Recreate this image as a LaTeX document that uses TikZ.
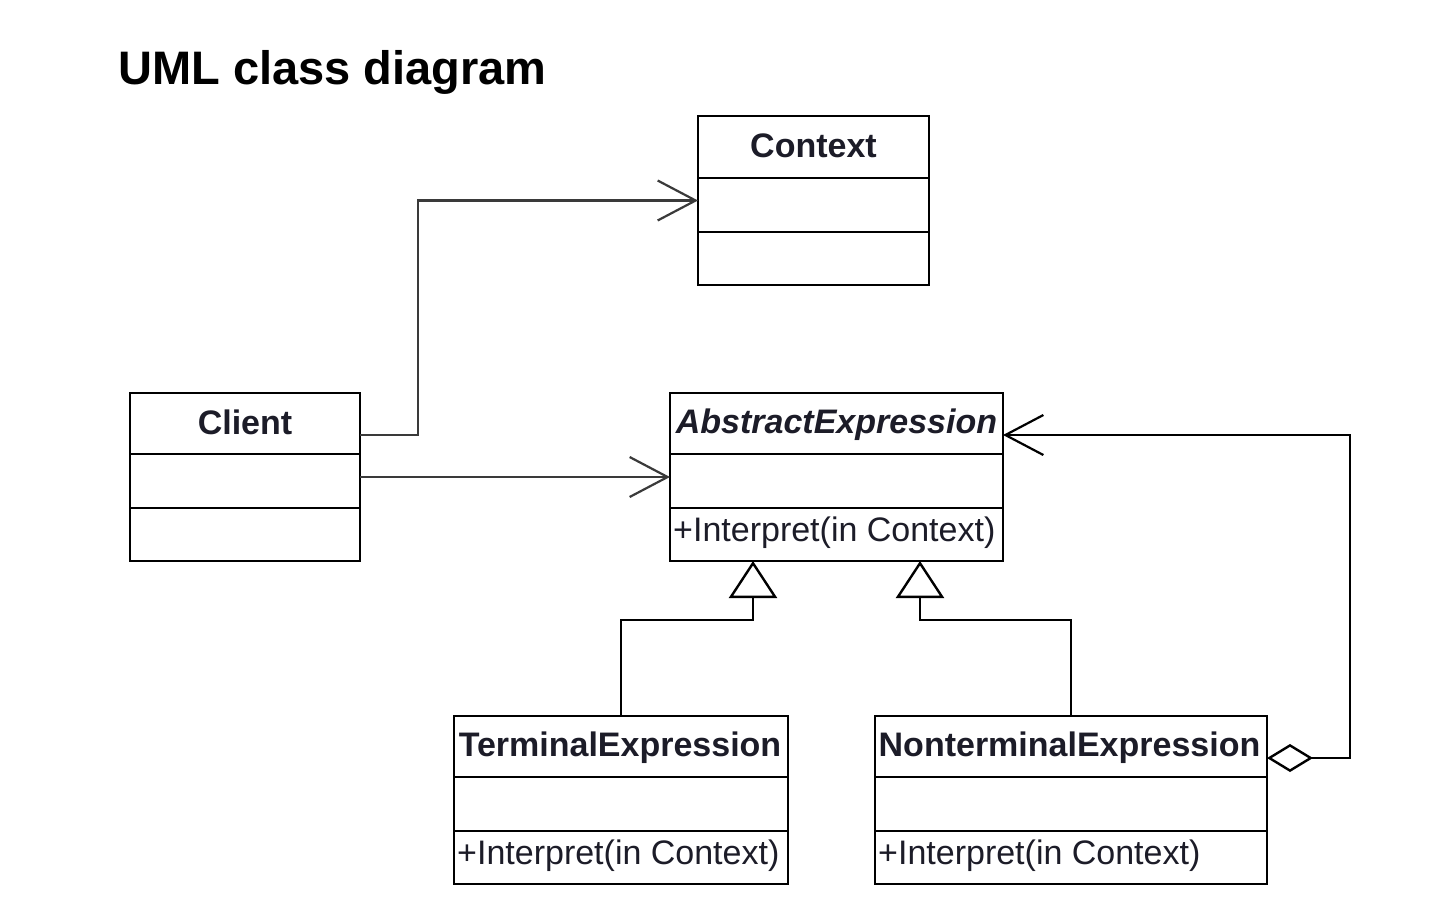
\documentclass[tikz,border=0pt]{standalone}
\usepackage{fontspec}
\setmainfont{Liberation Sans}
\usetikzlibrary{arrows.meta,calc}
\definecolor{txt}{HTML}{1C1C28}
\definecolor{ln}{HTML}{3A3A3A}
\begin{document}
\begin{tikzpicture}[x=1pt,y=-1pt,
  classbox/.style={draw=black,line width=2.4pt,rectangle,anchor=north west,inner sep=0pt,outer sep=0pt},
  divider/.style={line width=2.4pt,draw=black},
  cname/.style={font=\fontsize{34}{36}\selectfont\bfseries,text=txt,inner sep=0pt},
  cmeth/.style={font=\fontsize{34}{36}\selectfont,text=txt,inner sep=0pt,anchor=west},
  assoc/.style={draw=ln,line width=2.4pt,-{Straight Barb[length=38pt,width=40pt,line width=2.2pt]}},
  gen/.style={draw=black,line width=2.4pt,-{Triangle[open,length=37pt,width=48pt,line width=2.4pt,fill=white]}},
  aggr/.style={draw=black,line width=2.4pt,{Diamond[open,length=46pt,width=28pt,line width=2.4pt,fill=white]}-{Straight Barb[length=38pt,width=40pt,line width=2.2pt]}},
  titlefont/.style={font=\fontsize{47}{52}\selectfont\bfseries,inner sep=0pt,anchor=base west}
]
\path[fill=white] (0,0) rectangle (1440,916);
\useasboundingbox (0,0) rectangle (1440,916);

\node[titlefont] (title) at (118,84) {UML class diagram};

% Context
\node[classbox,minimum width=231pt,minimum height=169pt] (context) at (698,116) {};
\draw[divider] (698,178) -- (929,178);
\draw[divider] (698,232) -- (929,232);
\node[cname] (contextname) at (813.5,146) {Context};

% Client
\node[classbox,minimum width=230pt,minimum height=168pt] (client) at (130,393) {};
\draw[divider] (130,454) -- (360,454);
\draw[divider] (130,508) -- (360,508);
\node[cname] (clientname) at (245,422) {Client};

% AbstractExpression
\node[classbox,minimum width=333pt,minimum height=168pt] (abstract) at (670,393) {};
\draw[divider] (670,454) -- (1003,454);
\draw[divider] (670,508) -- (1003,508);
\node[cname,font=\fontsize{34}{36}\selectfont\bfseries\itshape] (abstractname) at (836.5,425) {AbstractExpression};
\node[cmeth] (abstractmeth) at (673,533) {+Interpret(in Context)};

% TerminalExpression
\node[classbox,minimum width=334pt,minimum height=168pt] (terminal) at (454,716) {};
\draw[divider] (454,777) -- (788,777);
\draw[divider] (454,831) -- (788,831);
\node[cname] (terminalname) at (620,748) {TerminalExpression};
\node[cmeth] (terminalmeth) at (457,856) {+Interpret(in Context)};

% NonterminalExpression
\node[classbox,minimum width=392pt,minimum height=168pt] (nonterminal) at (875,716) {};
\draw[divider] (875,777) -- (1267,777);
\draw[divider] (875,831) -- (1267,831);
\node[cname] (nonterminalname) at (1069.5,748) {NonterminalExpression};
\node[cmeth] (nonterminalmeth) at (878,856) {+Interpret(in Context)};

% bend coordinates
\coordinate (bendl) at (418,0);
\coordinate (bendr) at (1350,0);
\coordinate (cs) at ([yshift=42pt]client.east);
\coordinate (ns) at ([yshift=42pt]nonterminal.east);
\coordinate (ae) at ([yshift=42pt]abstract.east);

% Connectors
\draw[assoc] (cs) -- (cs -| bendl) |- (context.west);
\draw[assoc] (client.east) -- (abstract.west);
\draw[gen] (terminal.north) |- (753,620) -- ($(abstract.south west)+(83,0)$);
\draw[gen] (nonterminal.north) |- (920,620) -- ($(abstract.south west)+(250,0)$);
\draw[aggr] (ns) -| (ae -| bendr) -- (ae);
\end{tikzpicture}
\end{document}
